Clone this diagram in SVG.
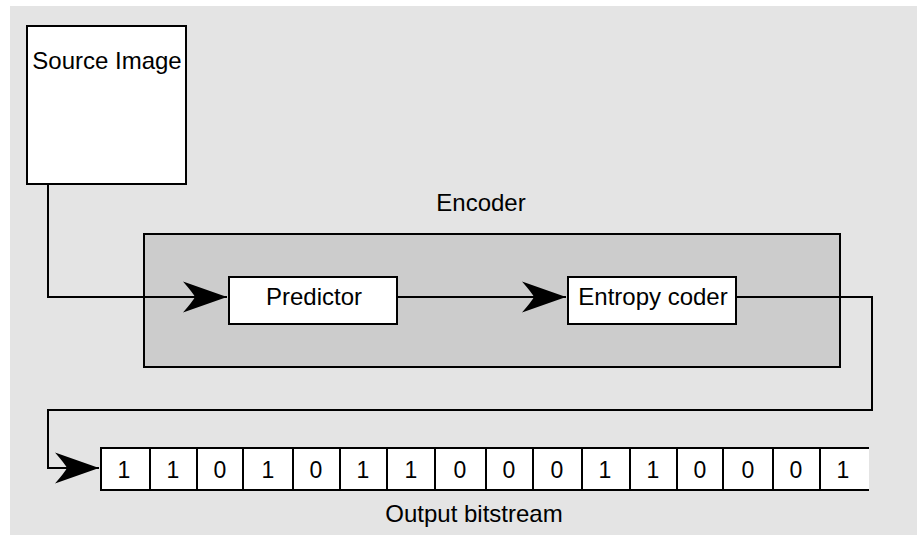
<svg xmlns="http://www.w3.org/2000/svg" width="917" height="535" viewBox="0 0 917 535">
<style>
.box{fill:#ffffff;stroke:#000000;stroke-width:2}
.enc{fill:#cccccc;stroke:#000000;stroke-width:2}
.wire{fill:none;stroke:#000000;stroke-width:2}
.lbl{font-family:"Liberation Sans",Arial,sans-serif;font-size:24px;fill:#000000;text-anchor:middle}
.bit{font-family:"Liberation Sans",Arial,sans-serif;font-size:23px;fill:#000000;text-anchor:middle}
</style>
<defs>
<marker id="arr" markerUnits="userSpaceOnUse" viewBox="-46 -17 48 34" markerWidth="48" markerHeight="34" refX="0" refY="0" orient="auto">
<path d="M0,0 L-44,-15.5 Q-34,-4 -32,0 Q-34,4 -44,15.5 Z" fill="#000000"/>
</marker>
</defs>
<rect x="10" y="6" width="907" height="529" fill="#e4e4e4"/>
<g id="encoder">
<rect class="enc" x="144" y="234" width="696" height="133"/>
<text class="lbl" x="481" y="211">Encoder</text>
</g>
<g id="source-image">
<rect class="box" x="27" y="26" width="159" height="158"/>
<text class="lbl" x="107" y="69">Source Image</text>
</g>
<g id="predictor">
<rect class="box" x="229" y="277" width="168" height="47"/>
<text class="lbl" x="314" y="305">Predictor</text>
</g>
<g id="entropy-coder">
<rect class="box" x="568" y="277" width="168" height="47"/>
<text class="lbl" x="653" y="305">Entropy coder</text>
</g>
<g id="connectors">
<path class="wire" d="M48,185 V297 H227" marker-end="url(#arr)"/>
<path class="wire" d="M398,297 H566" marker-end="url(#arr)"/>
<path class="wire" d="M737,297 H872 V410 H48 V468 H99" marker-end="url(#arr)"/>
</g>
<g id="output-bitstream">
<rect x="100" y="448" width="769" height="42" fill="#ffffff"/>
<path class="wire" d="M869,448 H101 V490 H869"/>
<path class="wire" d="M150,448V490M197,448V490M243,448V490M293,448V490M340,448V490M387,448V490M435,448V490M486,448V490M533,448V490M582,448V490M630,448V490M677,448V490M723,448V490M773,448V490M820,448V490"/>
<g class="bit">
<text x="124" y="478">1</text>
<text x="173" y="478">1</text>
<text x="220" y="478">0</text>
<text x="268" y="478">1</text>
<text x="316" y="478">0</text>
<text x="363" y="478">1</text>
<text x="411" y="478">1</text>
<text x="460" y="478">0</text>
<text x="509" y="478">0</text>
<text x="557" y="478">0</text>
<text x="605" y="478">1</text>
<text x="653" y="478">1</text>
<text x="700" y="478">0</text>
<text x="748" y="478">0</text>
<text x="796" y="478">0</text>
<text x="843" y="478">1</text>
</g>
<text class="lbl" x="474" y="522">Output bitstream</text>
</g>
</svg>
